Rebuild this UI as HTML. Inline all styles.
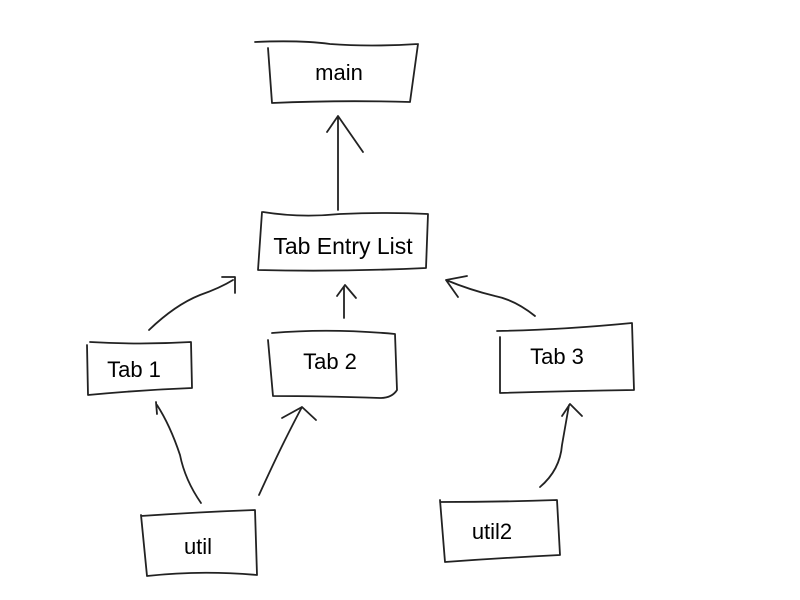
<!DOCTYPE html>
<html><head><style>
html,body{margin:0;padding:0;background:#fff;}
svg{display:block;}
text{font-family:"Liberation Sans",sans-serif;font-size:22px;fill:#000;text-anchor:middle;dominant-baseline:middle;}
path{fill:none;stroke:#222;stroke-width:1.8;stroke-linecap:round;stroke-linejoin:round;}
</style></head><body>
<svg width="800" height="600" viewBox="0 0 800 600">
<!-- main -->
<path d="M255 42 Q300 40 330 44 Q370 47 418 44 M268 48 L272 103 Q340 100 410 102 L418 44"/>
<text x="339" y="74">main</text>
<!-- Tab Entry List -->
<path d="M263 212 Q300 218 340 214 Q390 212 428 214 L426 268 Q340 272 258 270 L262 212"/>
<text x="343" y="248" style="font-size:23px">Tab Entry List</text>
<!-- Tab 1 -->
<path d="M87 345 L88 395 Q140 390 192 388 L191 342 Q140 345 90 342"/>
<text x="134" y="371">Tab 1</text>
<!-- Tab 2 -->
<path d="M272 333 Q330 328 395 334 L397 390 Q392 398 380 398 Q320 396 273 396 L268 340"/>
<text x="330" y="363">Tab 2</text>
<!-- Tab 3 -->
<path d="M497 331 Q560 330 632 323 L634 390 Q570 391 500 393 L500 337"/>
<text x="557" y="358">Tab 3</text>
<!-- util -->
<path d="M141 515 L147 576 Q200 570 257 575 L255 510 Q200 512 141 516"/>
<text x="198" y="548">util</text>
<!-- util2 -->
<path d="M440 500 L445 562 Q500 558 560 555 L557 500 Q500 502 440 502"/>
<text x="492" y="533">util2</text>
<!-- arrows -->
<path d="M338 210 L338 118 M327 132 L338 116 L363 152"/>
<path d="M149 330 Q175 305 200 295 Q220 288 233 280 M222 277 L235 277 L235 293"/>
<path d="M344 318 L344 287 M337 296 L345 285 L356 298"/>
<path d="M535 316 Q515 300 495 296 Q470 290 446 280 M467 276 L446 280 L458 297"/>
<path d="M201 503 Q185 480 180 455 Q170 425 157 405 M157 414 L156 402"/>
<path d="M259 495 Q275 460 285 440 Q295 420 302 407 M282 418 L302 407 L316 420"/>
<path d="M540 487 Q560 470 562 445 L569 405 M562 416 L570 404 L582 416"/>
</svg>
</body></html>
